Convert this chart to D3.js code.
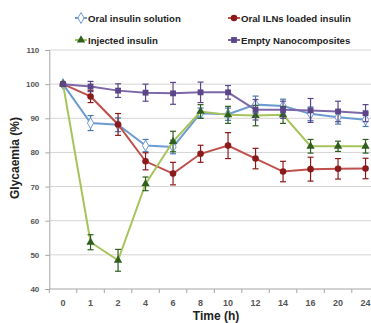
<!DOCTYPE html>
<html>
<head>
<meta charset="utf-8">
<script src="https://cdn.jsdelivr.net/npm/d3@7"></script>
<style>
  body { margin: 0; background: #fff; }
  text { font-family: "Liberation Sans", Arial, sans-serif; }
</style>
</head>
<body>
<svg id="chart" width="371" height="323"></svg>
<script>
// time points (categorical axis)
var times = ["0", "1", "2", "4", "6", "8", "10", "12", "14", "16", "20", "24"];
var yTicks = [40, 50, 60, 70, 80, 90, 100, 110];

var oralSolution     = [100, 88.6, 88.1, 82.0, 81.6, 91.5, 91.2, 94.0, 93.6, 91.3, 90.3, 89.6];
var oralSolutionErr  = [0, 2.2, 2.0, 1.8, 2.0, 1.5, 1.8, 2.5, 2.0, 2.0, 2.0, 2.0];
var oralILN          = [100, 96.4, 88.2, 77.4, 73.8, 79.6, 82.0, 78.2, 74.4, 75.1, 75.2, 75.3];
var oralILNErr       = [0, 1.8, 3.2, 2.5, 3.3, 2.5, 3.8, 3.0, 3.0, 3.5, 3.0, 3.0];
var injected         = [100, 53.7, 48.4, 70.8, 83.2, 92.0, 91.0, 90.8, 91.0, 81.8, 81.8, 81.8];
var injectedErr      = [0, 2.2, 3.2, 2.0, 3.0, 2.0, 2.5, 3.0, 2.5, 2.0, 1.5, 2.0];
var emptyNano        = [100, 99.3, 98.1, 97.5, 97.3, 97.6, 97.6, 92.5, 92.5, 92.3, 92.0, 91.5];
var emptyNanoErr     = [0, 1.5, 2.0, 2.5, 3.2, 3.0, 2.0, 3.0, 2.5, 3.5, 3.0, 2.5];

var series = [
  {name: "Oral insulin solution", vals: oralSolution, err: oralSolutionErr, line: "#6b9bd1", mark: "#4a78b0", shape: "diamond", open: true},
  {name: "Oral ILNs loaded insulin", vals: oralILN, err: oralILNErr, line: "#c0504d", mark: "#8b1a1a", shape: "circle"},
  {name: "Injected insulin", vals: injected, err: injectedErr, line: "#a6c45a", mark: "#2f5e1e", shape: "triangle"},
  {name: "Empty Nanocomposites", vals: emptyNano, err: emptyNanoErr, line: "#7e67a8", mark: "#5a4688", shape: "square"}
];

var svg = d3.select("#chart");
var left = 49.3, bandW = 27.5;

var x = d3.scaleBand().domain(times).range([left, left + bandW * times.length]);
var y = d3.scaleLinear().domain([40, 110]).range([289, 50]);
var cx = function(i) { return x(times[i]) + x.bandwidth() / 2; };

// gridlines
svg.append("g").selectAll("line").data(yTicks.filter(function(d) { return d > 40; }))
  .enter().append("line")
  .attr("x1", left).attr("x2", 371)
  .attr("y1", function(d) { return y(d); }).attr("y2", function(d) { return y(d); })
  .attr("stroke", "#d4d4d4").attr("stroke-width", 1);

// y axis
var yAxis = svg.append("g")
  .attr("transform", "translate(" + left + ",0)")
  .call(d3.axisLeft(y).tickValues(yTicks).tickSize(4).tickPadding(6));
yAxis.select(".domain").attr("stroke", "#a6a6a6");
yAxis.selectAll(".tick line").attr("stroke", "#a6a6a6");
yAxis.selectAll("text").style("font-size", "8px").style("font-weight", "bold").attr("fill", "#555");

// x axis (ticks at category boundaries)
var xAxisG = svg.append("g").attr("transform", "translate(0," + y(40) + ")");
xAxisG.append("line").attr("x1", left).attr("x2", 371).attr("y1", 0).attr("y2", 0).attr("stroke", "#a6a6a6");
xAxisG.selectAll(".bt").data(times).enter().append("line")
  .attr("x1", function(d) { return x(d); }).attr("x2", function(d) { return x(d); })
  .attr("y1", 0).attr("y2", 4).attr("stroke", "#a6a6a6");
xAxisG.selectAll(".lbl").data(times).enter().append("text")
  .attr("x", function(d) { return x(d) + x.bandwidth() / 2; })
  .attr("y", 17)
  .attr("text-anchor", "middle")
  .style("font-size", "9px").style("font-weight", "bold").attr("fill", "#555")
  .text(function(d) { return d; });

// axis titles
svg.append("text").attr("x", 216).attr("y", 320).attr("text-anchor", "middle")
  .style("font-size", "12px").style("font-weight", "bold").attr("fill", "#222").text("Time (h)");
svg.append("text").attr("transform", "translate(19,158) rotate(-90)").attr("text-anchor", "middle")
  .style("font-size", "12px").style("font-weight", "bold").attr("fill", "#222").text("Glycaemia (%)");

function shapeOf(s) {
  var t = {circle: d3.symbolCircle, square: d3.symbolSquare, triangle: d3.symbolTriangle, diamond: d3.symbolDiamond}[s];
  return d3.symbol().type(t).size(s === "triangle" ? 30 : 34);
}

var line = d3.line().x(function(d, i) { return cx(i); }).y(function(d) { return y(d); });

series.forEach(function(s) {
  var g = svg.append("g");
  g.append("path").datum(s.vals).attr("d", line)
    .attr("fill", "none").attr("stroke", s.line).attr("stroke-width", 2);

  var pts = s.vals.map(function(v, i) { return {v: v, e: s.err[i], i: i}; })
    .filter(function(p) { return p.e > 0; });

  var eb = g.selectAll(".eb").data(pts).enter().append("g")
    .attr("stroke", s.mark).attr("stroke-width", 1.2);
  eb.append("line")
    .attr("x1", function(p) { return cx(p.i); }).attr("x2", function(p) { return cx(p.i); })
    .attr("y1", function(p) { return y(p.v - p.e); }).attr("y2", function(p) { return y(p.v + p.e); });
  [-1, 1].forEach(function(sign) {
    eb.append("line")
      .attr("x1", function(p) { return cx(p.i) - 3; }).attr("x2", function(p) { return cx(p.i) + 3; })
      .attr("y1", function(p) { return y(p.v + sign * p.e); }).attr("y2", function(p) { return y(p.v + sign * p.e); });
  });

  g.selectAll(".pt").data(s.vals).enter().append("path")
    .attr("transform", function(d, i) { return "translate(" + cx(i) + "," + y(d) + ")"; })
    .attr("d", shapeOf(s.shape))
    .attr("fill", s.open ? "#fff" : s.mark)
    .attr("stroke", s.open ? s.line : "none").attr("stroke-width", 1);
});

// legend
var legPos = [[88, 18], [241, 18], [88, 40], [241, 40]];
series.forEach(function(s, k) {
  var lg = svg.append("g").attr("transform", "translate(" + legPos[k][0] + "," + legPos[k][1] + ")");
  lg.append("line").attr("x1", -13).attr("x2", -1).attr("y1", 0).attr("y2", 0)
    .attr("stroke", s.line).attr("stroke-width", 2);
  lg.append("path").attr("transform", "translate(-7,0)").attr("d", shapeOf(s.shape))
    .attr("fill", s.open ? "#fff" : s.mark).attr("stroke", s.open ? s.line : "none");
  lg.append("text").attr("x", 0).attr("y", 4)
    .style("font-size", "9.6px").style("font-weight", "bold").attr("fill", "#222")
    .text(s.name);
});
</script>
</body>
</html>
